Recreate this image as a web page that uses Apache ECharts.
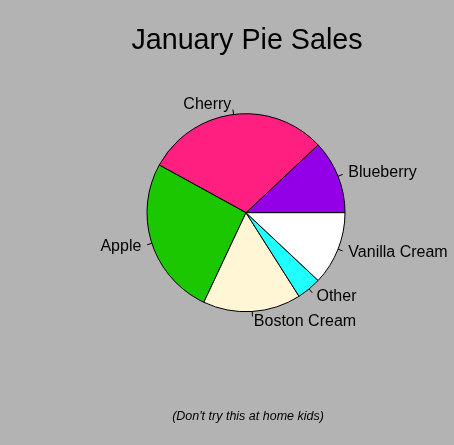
<!DOCTYPE html>
<html>
<head>
<meta charset="utf-8">
<script src="https://cdn.jsdelivr.net/npm/echarts@6/dist/echarts.min.js"></script>
<style>
  html, body { margin: 0; padding: 0; background: #b3b3b3; }
  #chart { width: 454px; height: 445px; }
</style>
</head>
<body>
<div id="chart"></div>
<script>
// pie slices, counterclockwise from 3 o'clock
var flavours = ['Blueberry', 'Cherry', 'Apple', 'Boston Cream', 'Other', 'Vanilla Cream'];
var sales = [0.12, 0.30, 0.26, 0.16, 0.04, 0.12];
var colours = ['#9300e8', '#ff1f81', '#1bc800', '#fff6d6', '#20ffff', '#ffffff'];

var pieData = [];
for (var i = 0; i < flavours.length; i++) {
    pieData.push({ name: flavours[i], value: sales[i], itemStyle: { color: colours[i] } });
}

var mychart = echarts.init(document.getElementById('chart'));
var option = {
    backgroundColor: '#b3b3b3',
    animation: false,
    title: [{
        text: 'January Pie Sales',
        left: 242,
        top: 22,
        textAlign: 'center',
        textStyle: { fontFamily: 'Liberation Sans', fontSize: 28.7, fontWeight: 'normal', color: '#000' }
    }, {
        text: "(Don't try this at home kids)",
        left: 243,
        top: 405,
        textAlign: 'center',
        textStyle: { fontFamily: 'Liberation Sans', fontSize: 12.5, fontStyle: 'italic', fontWeight: 'normal', color: '#000' }
    }],
    series: [{
        type: 'pie',
        center: [246, 212.7],
        radius: 99,
        startAngle: 0,
        clockwise: false,
        avoidLabelOverlap: false,
        data: pieData,
        itemStyle: { borderColor: '#000', borderWidth: 1 },
        label: {
            show: true,
            position: 'outside',
            color: '#000',
            fontFamily: 'Liberation Sans',
            fontSize: 16,
            distanceToLabelLine: 1
        },
        // tick runs only halfway to the label, like the classic pie
        labelLine: {
            show: true,
            length: 10,
            length2: 0,
            lineStyle: { color: '#000', width: 1, type: [5, 50] }
        },
        emphasis: { disabled: true }
    }]
};
mychart.setOption(option);
</script>
</body>
</html>
